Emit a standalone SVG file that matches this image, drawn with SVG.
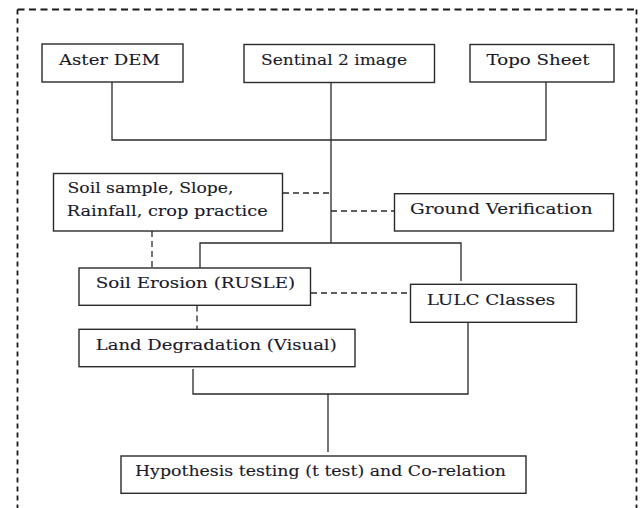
<svg xmlns="http://www.w3.org/2000/svg" width="643" height="508" viewBox="0 0 643 508">
  <style>
    .box { fill: #ffffff; stroke: #2a2a2a; stroke-width: 1.4; }
    .lbl { font-family: 'DejaVu Serif', 'Liberation Serif', serif; font-size: 15.5px; fill: #1a1a2a; stroke: #1a1a2a; stroke-width: 0.12; }
    .solid { fill: none; stroke: #2a2a2a; stroke-width: 1.3; }
    .dash { fill: none; stroke: #2a2a2a; stroke-width: 1.3; stroke-dasharray: 6 4; }
    .frame { fill: none; stroke: #1a1a1a; stroke-width: 1.8; }
  </style>
  <rect width="643" height="508" fill="#ffffff"/>

  <!-- open dashed frame -->
  <g id="frame">
    <path class="frame" d="M17.5,9.5 H636.5" stroke-dasharray="7 4.5"/>
    <path class="frame" d="M17.5,9.5 V508" stroke-dasharray="5 4"/>
    <path class="frame" d="M636.5,9.5 V508" stroke-dasharray="5 4"/>
  </g>

  <!-- connectors -->
  <g id="connectors">
    <path class="solid" d="M112,82 V140 H546 V82"/>
    <path class="solid" d="M331,82.5 V243"/>
    <path class="solid" d="M200,268 V243 H461 V281"/>
    <path class="dash" d="M283,193 H331"/>
    <path class="dash" d="M331,211 H394"/>
    <path class="dash" d="M152,231 V268"/>
    <path class="dash" d="M311,293 H410"/>
    <path class="dash" d="M197,305.5 V329"/>
    <path class="solid" d="M193,369 V394 H468 V322.5"/>
    <path class="solid" d="M328,394 V452"/>
  </g>

  <g id="aster-dem">
    <rect class="box" x="42" y="44" width="141" height="38"/>
    <text class="lbl" x="59" y="65" textLength="101" lengthAdjust="spacingAndGlyphs">Aster DEM</text>
  </g>

  <g id="sentinal-2-image">
    <rect class="box" x="244" y="44.5" width="190.5" height="38"/>
    <text class="lbl" x="261" y="65.3" textLength="146" lengthAdjust="spacingAndGlyphs">Sentinal 2 image</text>
  </g>

  <g id="topo-sheet">
    <rect class="box" x="470" y="44.5" width="144" height="37.5"/>
    <text class="lbl" x="486.5" y="65.3" textLength="103" lengthAdjust="spacingAndGlyphs">Topo Sheet</text>
  </g>

  <g id="soil-inputs">
    <rect class="box" x="53.5" y="173.5" width="229" height="57.5"/>
    <text class="lbl" x="67.5" y="193.3" textLength="166" lengthAdjust="spacingAndGlyphs">Soil sample, Slope,</text>
    <text class="lbl" x="66.7" y="215.7" textLength="201" lengthAdjust="spacingAndGlyphs">Rainfall, crop practice</text>
  </g>

  <g id="ground-verification">
    <rect class="box" x="394.5" y="193.7" width="219" height="37.3"/>
    <text class="lbl" x="410" y="214.3" textLength="182.5" lengthAdjust="spacingAndGlyphs">Ground Verification</text>
  </g>

  <g id="soil-erosion">
    <rect class="box" x="79" y="268" width="231.5" height="37.3"/>
    <text class="lbl" x="95.7" y="288" textLength="199.5" lengthAdjust="spacingAndGlyphs">Soil Erosion (RUSLE)</text>
  </g>

  <g id="lulc-classes">
    <rect class="box" x="410.5" y="284.3" width="166" height="38"/>
    <text class="lbl" x="426.7" y="305" textLength="128.5" lengthAdjust="spacingAndGlyphs">LULC Classes</text>
  </g>

  <g id="land-degradation">
    <rect class="box" x="79" y="329.3" width="276" height="37.4"/>
    <text class="lbl" x="95.7" y="350" textLength="241" lengthAdjust="spacingAndGlyphs">Land Degradation (Visual)</text>
  </g>

  <g id="hypothesis-testing">
    <rect class="box" x="121" y="456" width="405" height="37.3"/>
    <text class="lbl" x="135" y="476" textLength="371" lengthAdjust="spacingAndGlyphs">Hypothesis testing (t test) and Co-relation</text>
  </g>
</svg>
